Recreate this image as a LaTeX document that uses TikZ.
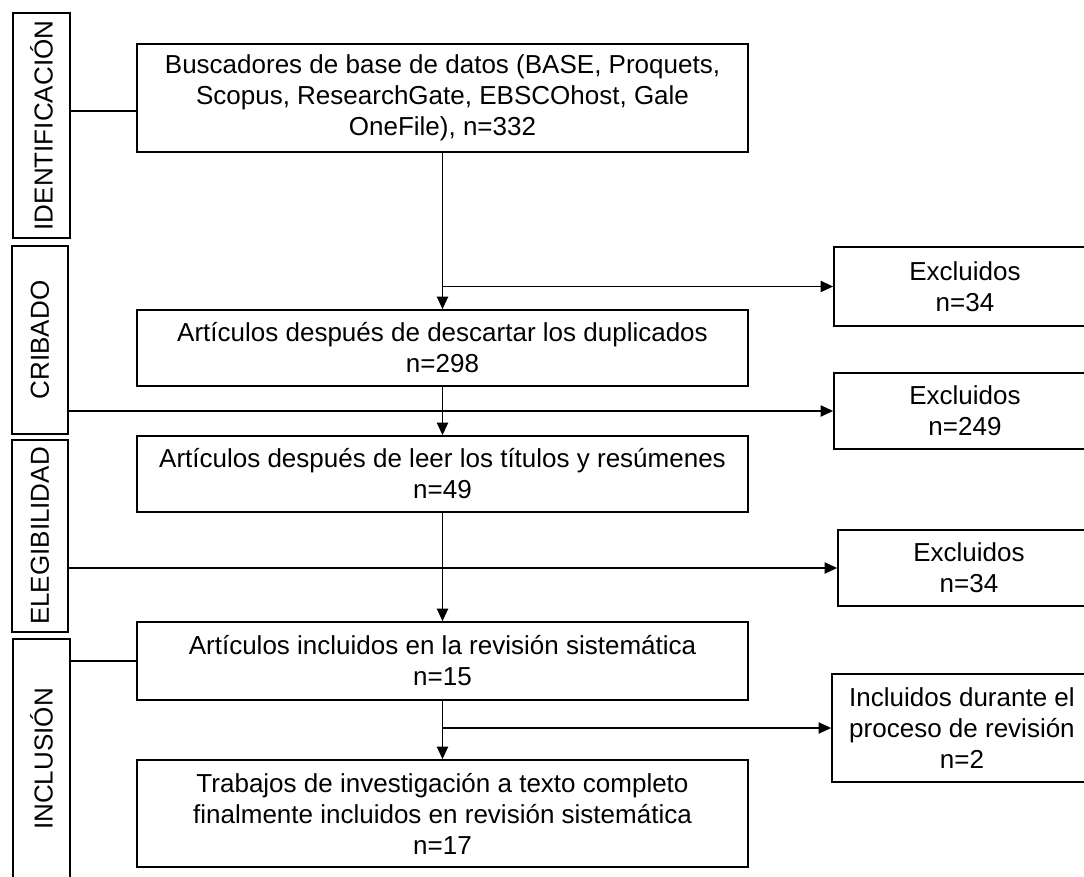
\documentclass[tikz,border=0pt]{standalone}
\usepackage{fontspec}
\setmainfont{Liberation Sans}
\usepackage{tikz}
\usetikzlibrary{arrows.meta,positioning,calc}

\begin{document}
\begin{tikzpicture}[
    stage/.style={rectangle, draw, line width=1.2pt, minimum width=1.4cm, inner sep=0pt, font=\fontsize{18.5}{22}\selectfont},
    box/.style={rectangle, draw, line width=1.2pt, align=center, minimum width=15.275cm, font=\fontsize{18.5}{22}\selectfont},
    side/.style={rectangle, draw, line width=1.2pt, align=center, minimum width=6.55cm, font=\fontsize{18.5}{22}\selectfont},
    arrow/.style={-{Triangle[length=9pt, width=8pt]}, line width=1.2pt},
    link/.style={line width=1.2pt}
]
    \useasboundingbox (0,0) rectangle (27.1,-21.9);
    \clip (0,0) rectangle (27.1,-21.9);

    % Stage boxes
    \node[stage, minimum width=1.425cm, minimum height=5.625cm] (id) at (1.0375,-3.1375) {\rotatebox{90}{IDENTIFICACIÓN}};
    \node[stage, minimum height=4.7cm] (crib) at (1.0,-8.5) {\rotatebox{90}{CRIBADO}};
    \node[stage, minimum height=4.8cm] (eleg) at (1.0,-13.4) {\rotatebox{90}{ELEGIBILIDAD}};
    \node[stage, minimum width=1.425cm, minimum height=6.0cm] (incl) at (1.0375,-18.975) {\rotatebox{90}{INCLUSIÓN}};

    % Main flow
    \node[box, minimum height=2.7cm] (b1) at (11.0625,-2.45) {Buscadores de base de datos (BASE, Proquets,\\Scopus, ResearchGate, EBSCOhost, Gale\\OneFile), n=332};
    \node[box, minimum height=1.9cm] (b2) at (11.0625,-8.7) {Artículos después de descartar los duplicados\\n=298};
    \node[box, minimum height=1.9cm] (b3) at (11.0625,-11.85) {Artículos después de leer los títulos y resúmenes\\n=49};
    \node[box, minimum height=1.95cm] (b4) at (11.0625,-16.525) {Artículos incluidos en la revisión sistemática\\n=15};
    \node[box, minimum height=2.675cm] (b5) at (11.0625,-20.3375) {Trabajos de investigación a texto completo\\finalmente incluidos en revisión sistemática\\n=17};

    % Side boxes
    \node[side, minimum height=1.975cm] (r1) at (24.125,-7.1625) {Excluidos\\n=34};
    \node[side, minimum height=1.9cm] (r2) at (24.125,-10.275) {Excluidos\\n=249};
    \node[side, minimum height=1.9cm] (r3) at (24.225,-14.2) {Excluidos\\n=34};
    \node[side, minimum width=6.5cm, minimum height=2.7cm] (r4) at (24.05,-18.2) {Incluidos durante el\\proceso de revisión\\n=2};

    % Stage links
    \coordinate (j1) at (3.425,-2.775);
    \draw[link] (id.east |- j1) -- (j1);
    \draw[arrow] (crib.east |- r2.west) -- (r2.west);
    \draw[arrow] (eleg.east |- r3.west) -- (r3.west);
    \draw[link] (incl.east |- b4.west) -- (b4.west);

    % Vertical arrows
    \foreach \a/\b in {b1/b2, b2/b3, b3/b4, b4/b5} {
        \draw[arrow] (\a.south) -- (\b.north);
    }

    % Branches to the side
    \draw[arrow] (b1.south |- r1.west) -- (r1.west);
    \draw[arrow] (b4.south |- r4.west) -- (r4.west);
\end{tikzpicture}
\end{document}
